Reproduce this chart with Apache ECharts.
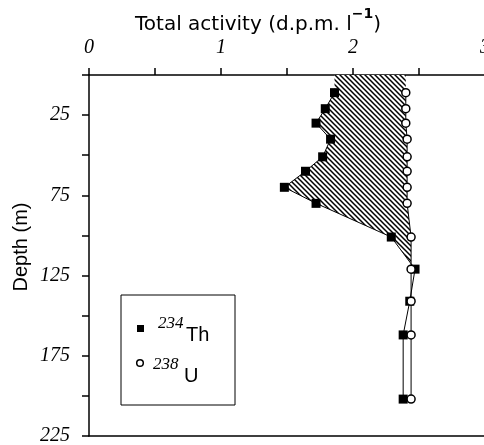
<!DOCTYPE html>
<html><head><meta charset="utf-8">
<script src="https://cdn.jsdelivr.net/npm/echarts@6/dist/echarts.min.js"></script>
<style>html,body{margin:0;padding:0;background:#fff}#c{width:484px;height:445px}</style>
</head><body><div id="c"></div>
<script>
// Depth (m) of each sample
const depths = [11, 21, 30, 40, 51, 60, 70, 80, 101, 121, 141, 162, 202];
// 234Th total activity (d.p.m. l-1)
const th234 = [1.86, 1.79, 1.72, 1.83, 1.77, 1.64, 1.48, 1.72, 2.29, 2.47, 2.43, 2.38, 2.38];
// 238U total activity (d.p.m. l-1)
const u238 = [2.40, 2.40, 2.40, 2.41, 2.41, 2.41, 2.41, 2.41, 2.44, 2.44, 2.44, 2.44, 2.44];
const xLabelTicks = [0, 1, 2, 3];
const yLabelTicks = [25, 75, 125, 175, 225];

function hatchPattern() {
  const s = 5;
  const c = document.createElement('canvas');
  c.width = s; c.height = s;
  const g = c.getContext('2d');
  g.fillStyle = '#fff'; g.fillRect(0, 0, s, s);
  g.strokeStyle = '#000'; g.lineWidth = 1.5;
  g.beginPath();
  g.moveTo(-1, -1); g.lineTo(s + 1, s + 1);
  g.moveTo(-1, s - 1); g.lineTo(1, s + 1);
  g.moveTo(s - 1, -1); g.lineTo(s + 1, 1);
  g.stroke();
  return c;
}
const pat = hatchPattern();

const chart = echarts.init(document.getElementById('c'), null, {renderer: 'canvas'});
const serifLabel = {fontFamily: 'Liberation Serif', fontStyle: 'italic', fontSize: 20, color: '#000'};

const option = {
  animation: false,
  backgroundColor: '#fff',
  grid: {left: 89, right: -1, top: 75, bottom: 9, outerBoundsMode: 'none', containLabel: false},
  xAxis: [{
    type: 'value', position: 'top', min: 0, max: 3, interval: 0.5,
    axisLine: {show: true, lineStyle: {color: '#000', width: 1.5}},
    axisTick: {show: true, inside: false, length: 7, lineStyle: {color: '#000', width: 1.5}},
    axisLabel: Object.assign({margin: 17, formatter: v => xLabelTicks.includes(v) ? String(v) : ''}, serifLabel),
    splitLine: {show: false}
  }, {
    type: 'value', position: 'bottom', min: 0, max: 3,
    axisLine: {show: true, lineStyle: {color: '#000', width: 1.5}},
    axisTick: {show: false}, axisLabel: {show: false}, splitLine: {show: false}
  }],
  yAxis: {
    type: 'value', inverse: true, min: 0, max: 225, interval: 25,
    axisLine: {show: true, lineStyle: {color: '#000', width: 1.5}},
    axisTick: {show: true, inside: false, length: 7, lineStyle: {color: '#000', width: 1.5}},
    axisLabel: Object.assign({margin: 19, formatter: v => yLabelTicks.includes(v) ? String(v) : ''}, serifLabel),
    splitLine: {show: false}
  },
  series: [{
    type: 'custom',
    xAxisIndex: 0,
    data: [[0, 0]],
    z: 1,
    silent: true,
    renderItem: function (params, api) {
      const pts = [api.coord([th234[0], 0])];
      let k = depths.length - 1;
      for (let i = 0; i < depths.length; i++) {
        if (th234[i] >= u238[i]) { k = i; break; }
        pts.push(api.coord([th234[i], depths[i]]));
      }
      const a0 = u238[k - 1] - th234[k - 1], a1 = u238[k] - th234[k];
      const t = a0 / (a0 - a1);
      const d = depths[k - 1] + t * (depths[k] - depths[k - 1]);
      const v = th234[k - 1] + t * (th234[k] - th234[k - 1]);
      pts.push(api.coord([v, d]));
      for (let i = k - 1; i >= 0; i--) pts.push(api.coord([u238[i], depths[i]]));
      pts.push(api.coord([u238[0], 0]));
      return {type: 'polygon', shape: {points: pts},
        style: {fill: {type: 'pattern', image: pat, repeat: 'repeat'}, stroke: null}};
    }
  }, {
    type: 'line', name: '234Th', xAxisIndex: 0, z: 3,
    data: depths.map((d, i) => [th234[i], d]),
    symbol: 'rect', symbolSize: 9,
    itemStyle: {color: '#000'},
    lineStyle: {color: '#000', width: 1}
  }, {
    type: 'line', name: '238U', xAxisIndex: 0, z: 4,
    data: depths.map((d, i) => [u238[i], d]),
    symbol: 'circle', symbolSize: 8,
    itemStyle: {color: '#fff', borderColor: '#000', borderWidth: 1.5},
    lineStyle: {color: '#000', width: 1}
  }],
  graphic: [
    {type: 'text', left: 135, top: 7, style: {
      text: '{a|Total activity (d.p.m. l}{b|−1}{a|)}',
      rich: {
        a: {fontFamily: 'DejaVu Sans', fontSize: 20, color: '#000', lineHeight: 28, verticalAlign: 'bottom'},
        b: {fontFamily: 'DejaVu Sans', fontSize: 14, fontWeight: 'bold', color: '#000', lineHeight: 28, verticalAlign: 'top'}
      }}},
    {type: 'text', x: 21, y: 247, rotation: Math.PI / 2, style: {
      text: 'Depth (m)', fontFamily: 'Liberation Sans', fontSize: 20, fill: '#000',
      align: 'center', verticalAlign: 'middle'}},
    {type: 'rect', shape: {x: 121, y: 295, width: 114, height: 110},
      style: {fill: 'none', stroke: '#000', lineWidth: 1}},
    {type: 'rect', shape: {x: 137, y: 325, width: 7, height: 7}, style: {fill: '#000'}},
    {type: 'circle', shape: {cx: 140, cy: 363, r: 3.3}, style: {fill: '#fff', stroke: '#000', lineWidth: 1.5}},
    {type: 'text', x: 158, y: 324, style: {text: '234', fontFamily: 'Liberation Serif', fontStyle: 'italic', fontSize: 17, fill: '#000', verticalAlign: 'middle'}},
    {type: 'text', x: 186, y: 335, style: {text: 'Th', fontFamily: 'Liberation Sans', fontSize: 20, fill: '#000', verticalAlign: 'middle'}},
    {type: 'text', x: 153, y: 365, style: {text: '238', fontFamily: 'Liberation Serif', fontStyle: 'italic', fontSize: 17, fill: '#000', verticalAlign: 'middle'}},
    {type: 'text', x: 184, y: 376, style: {text: 'U', fontFamily: 'Liberation Sans', fontSize: 20, fill: '#000', verticalAlign: 'middle'}}
  ]
};
chart.setOption(option);
</script>
</body></html>
